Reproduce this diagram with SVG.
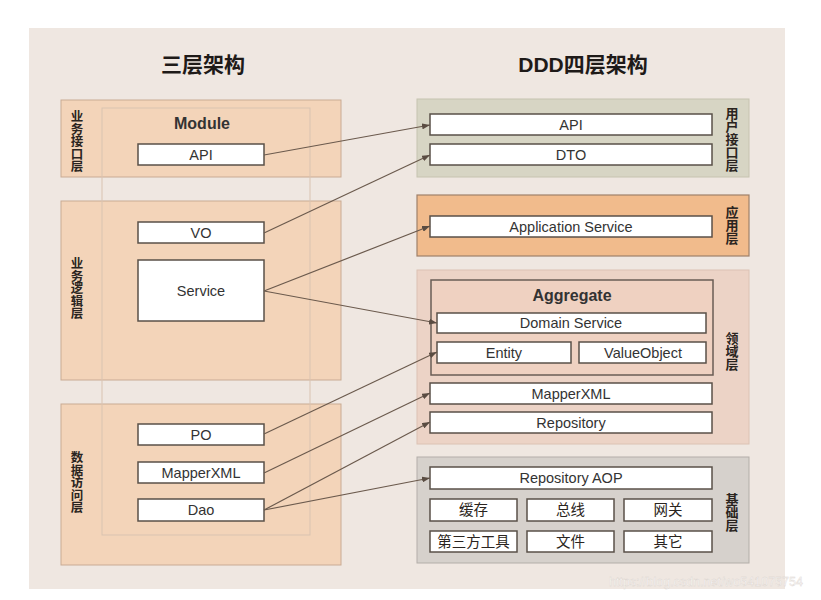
<svg xmlns="http://www.w3.org/2000/svg" width="821" height="600" viewBox="0 0 821 600">
  <defs>
    <style>
      .lat{font-family:"Liberation Sans",Arial,sans-serif;fill:#333;}
      .cjk{font-family:"Noto Sans CJK SC","Noto Sans",sans-serif;fill:#2a2420;}
      .box{fill:#ffffff;stroke:#5a5048;stroke-width:1.5;}
      .lbl{font-size:14.5px;text-anchor:middle;}
      .vlab{font-size:12.5px;font-weight:bold;text-anchor:middle;writing-mode:vertical-rl;}
      .vr{font-size:13px;}
      .title{font-size:21px;font-weight:bold;text-anchor:middle;fill:#1e1a18;}
      .peach{fill:#f3d4b9;stroke:#c9ab94;stroke-width:1;}
      .conn{stroke:#6b5a4d;stroke-width:1.2;fill:none;marker-end:url(#ah);}
    </style>
    <marker id="ah" markerWidth="8" markerHeight="6" refX="8" refY="3" orient="auto" markerUnits="userSpaceOnUse">
      <path d="M0,0 L8,3 L0,6 Z" fill="#5a4c42"/>
    </marker>
  </defs>

  <rect x="0" y="0" width="821" height="600" fill="#ffffff"/>
  <rect x="29" y="28" width="756" height="561" fill="#efe7e1"/>

  <text class="cjk title" x="203" y="72">三层架构</text>
  <text class="title" x="583" y="72"><tspan style="font-family:'Liberation Sans',Arial,sans-serif">DDD</tspan><tspan style="font-family:'Noto Sans CJK SC',sans-serif">四层架构</tspan></text>

  <!-- Left: three-layer -->
  <g id="layer-interface">
    <rect class="peach" x="61" y="100" width="280" height="77"/>
    <text class="cjk vlab" x="77" y="141.5">业务接口层</text>
  </g>
  <g id="layer-logic">
    <rect class="peach" x="61" y="201" width="280" height="179"/>
    <text class="cjk vlab" x="77" y="288.5">业务逻辑层</text>
  </g>
  <g id="layer-data">
    <rect class="peach" x="61" y="404" width="280" height="161"/>
    <text class="cjk vlab" x="77" y="482.5">数据访问层</text>
  </g>
  <g id="module">
    <rect x="102" y="108" width="208" height="427" fill="none" stroke="#d9c3b1" stroke-width="1"/>
    <text class="lat" x="202" y="129" font-size="16" font-weight="bold" text-anchor="middle">Module</text>
  </g>
  <g id="l-api"><rect class="box" x="138" y="144" width="126" height="21"/><text class="lat lbl" x="201" y="160">API</text></g>
  <g id="l-vo"><rect class="box" x="138" y="222" width="126" height="21"/><text class="lat lbl" x="201" y="238">VO</text></g>
  <g id="l-service"><rect class="box" x="138" y="260" width="126" height="61"/><text class="lat lbl" x="201" y="296">Service</text></g>
  <g id="l-po"><rect class="box" x="138" y="424" width="126" height="21"/><text class="lat lbl" x="201" y="440">PO</text></g>
  <g id="l-mapper"><rect class="box" x="138" y="462" width="126" height="21"/><text class="lat lbl" x="201" y="478">MapperXML</text></g>
  <g id="l-dao"><rect class="box" x="138" y="499" width="126" height="22"/><text class="lat lbl" x="201" y="515">Dao</text></g>

  <!-- Right: DDD four-layer -->
  <g id="r-user-layer">
    <rect x="417" y="99" width="332" height="78" fill="#d7d5c4" stroke="#c6c3b0" stroke-width="1"/>
    <text class="cjk vlab vr" x="732" y="139">用户接口层</text>
  </g>
  <g id="r-api"><rect class="box" x="430" y="114" width="282" height="21"/><text class="lat lbl" x="571" y="130">API</text></g>
  <g id="r-dto"><rect class="box" x="430" y="144" width="282" height="21"/><text class="lat lbl" x="571" y="160">DTO</text></g>

  <g id="r-app-layer">
    <rect x="417" y="195" width="332" height="61" fill="#f1bb8c" stroke="#9f806a" stroke-width="1.2"/>
    <text class="cjk vlab vr" x="732" y="225.5">应用层</text>
  </g>
  <g id="r-appservice"><rect class="box" x="430" y="216" width="282" height="21"/><text class="lat lbl" x="571" y="232">Application Service</text></g>

  <g id="r-domain-layer">
    <rect x="417" y="270" width="332" height="174" fill="#ecd3c6" stroke="#dcc2b4" stroke-width="1"/>
    <text class="cjk vlab vr" x="732" y="351">领域层</text>
  </g>
  <g id="r-aggregate">
    <rect x="431" y="280" width="282" height="95" fill="#efd1c1" stroke="#6a5d55" stroke-width="1.5"/>
    <text class="lat" x="572" y="301" font-size="16" font-weight="bold" text-anchor="middle">Aggregate</text>
  </g>
  <g id="r-domainservice"><rect class="box" x="437" y="313" width="269" height="20"/><text class="lat lbl" x="571" y="328">Domain Service</text></g>
  <g id="r-entity"><rect class="box" x="437" y="342" width="134" height="21"/><text class="lat lbl" x="504" y="358">Entity</text></g>
  <g id="r-valueobject"><rect class="box" x="579" y="342" width="127" height="21"/><text class="lat lbl" x="643" y="358">ValueObject</text></g>
  <g id="r-mapper"><rect class="box" x="430" y="383" width="282" height="21"/><text class="lat lbl" x="571" y="399">MapperXML</text></g>
  <g id="r-repository"><rect class="box" x="430" y="412" width="282" height="21"/><text class="lat lbl" x="571" y="428">Repository</text></g>

  <g id="r-infra-layer">
    <rect x="417" y="457" width="332" height="106" fill="#d6d1cc" stroke="#b3aea9" stroke-width="1"/>
    <text class="cjk vlab vr" x="732" y="512.5">基础层</text>
  </g>
  <g id="r-repoaop"><rect class="box" x="430" y="467" width="282" height="22"/><text class="lat lbl" x="571" y="483">Repository AOP</text></g>
  <g id="r-cache"><rect class="box" x="430" y="499" width="87" height="22"/><text class="cjk lbl" x="473.5" y="515">缓存</text></g>
  <g id="r-bus"><rect class="box" x="527" y="499" width="87" height="22"/><text class="cjk lbl" x="570.5" y="515">总线</text></g>
  <g id="r-gateway"><rect class="box" x="624" y="499" width="88" height="22"/><text class="cjk lbl" x="668" y="515">网关</text></g>
  <g id="r-thirdparty"><rect class="box" x="430" y="531" width="87" height="21"/><text class="cjk lbl" x="473.5" y="547">第三方工具</text></g>
  <g id="r-file"><rect class="box" x="527" y="531" width="87" height="21"/><text class="cjk lbl" x="570.5" y="547">文件</text></g>
  <g id="r-other"><rect class="box" x="624" y="531" width="88" height="21"/><text class="cjk lbl" x="668" y="547">其它</text></g>

  <g id="connectors">
    <line class="conn" x1="264" y1="155" x2="430" y2="125"/>
    <line class="conn" x1="264" y1="233" x2="430" y2="155"/>
    <line class="conn" x1="264" y1="291" x2="430" y2="226"/>
    <line class="conn" x1="264" y1="291" x2="437" y2="323"/>
    <line class="conn" x1="264" y1="434" x2="437" y2="352"/>
    <line class="conn" x1="264" y1="473" x2="430" y2="393"/>
    <line class="conn" x1="264" y1="510" x2="430" y2="422"/>
    <line class="conn" x1="264" y1="510" x2="430" y2="478"/>
  </g>

  <text x="609" y="586" font-family="'Liberation Sans',Arial,sans-serif" font-size="12.5" fill="#ffffff" stroke="#d9d1cb" stroke-width="0.4" opacity="0.9">https://blog.csdn.net/wo541075754</text>
</svg>
